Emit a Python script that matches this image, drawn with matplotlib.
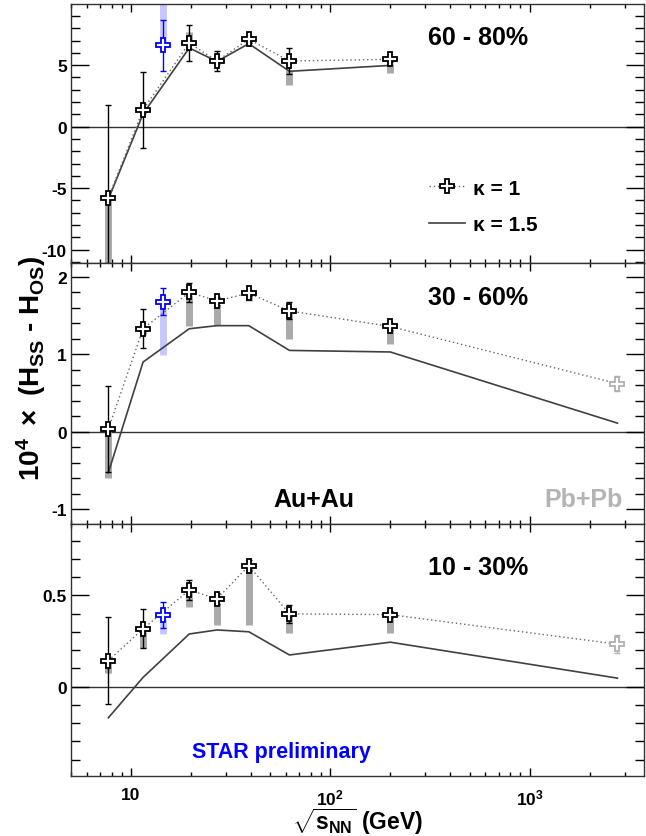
import numpy as np
import matplotlib
matplotlib.use("Agg")
import matplotlib.pyplot as plt
from matplotlib.ticker import MultipleLocator, FuncFormatter, LogLocator, NullFormatter

plt.rcParams['font.family'] = ['Liberation Sans', 'DejaVu Sans']
plt.rcParams['font.weight'] = 'bold'
plt.rcParams['mathtext.fontset'] = 'custom'
plt.rcParams['mathtext.rm'] = 'Liberation Sans:bold'
plt.rcParams['mathtext.it'] = 'Liberation Sans:bold'
plt.rcParams['mathtext.bf'] = 'Liberation Sans:bold'
plt.rcParams['axes.unicode_minus'] = False

# Au+Au beam energies (GeV), STAR point at 14.5 GeV kept apart, Pb+Pb at LHC
energies = [7.7, 11.5, 19.6, 27, 39, 62.4, 200]
star_energy = 14.5
lhc_energy = 2760

# 60 - 80%
k1_6080 = [-5.77, 1.38, 6.8, 5.34, 7.1, 5.34, 5.47]
k1_6080_err = [7.56, 3.1, 1.45, 0.78, 0.3, 1.05, 0.2]
k15_6080 = [-5.9, 1.05, 6.4, 5.3, 6.75, 4.5, 4.98]
sys_lo_6080 = [-11.5, 1.0, 6.6, 5.0, 6.8, 3.4, 4.4]
sys_hi_6080 = [-5.9, 1.4, 7.7, 5.4, 7.1, 4.6, 5.1]
star_6080 = [6.6, 2.1, 6.6, 11.0]      # value, error, sys low, sys high

# 30 - 60%
k1_3060 = [0.035, 1.33, 1.80, 1.69, 1.79, 1.56, 1.36]
k1_3060_err = [0.56, 0.25, 0.12, 0.05, 0.04, 0.11, 0.04]
k15_3060 = [-0.53, 0.9, 1.33, 1.37, 1.37, 1.05, 1.03]
sys_lo_3060 = [-0.6, 1.25, 1.36, 1.38, 1.69, 1.20, 1.13]
sys_hi_3060 = [0.0, 1.33, 1.77, 1.64, 1.77, 1.53, 1.31]
star_3060 = [1.68, 0.175, 0.99, 1.59]
lhc_3060 = [0.62, 0.1, 0.11]           # value, error, kappa = 1.5

# 10 - 30%
k1_1030 = [0.142, 0.316, 0.529, 0.48, 0.662, 0.398, 0.394]
k1_1030_err = [0.24, 0.107, 0.055, 0.03, 0.03, 0.05, 0.02]
k15_1030 = [-0.171, 0.05, 0.288, 0.31, 0.30, 0.173, 0.243]
sys_lo_1030 = [0.075, 0.21, 0.434, 0.337, 0.337, 0.294, 0.294]
sys_hi_1030 = [0.135, 0.30, 0.516, 0.46, 0.644, 0.385, 0.37]
star_1030 = [0.392, 0.073, 0.29, 0.37]
lhc_1030 = [0.232, 0.048, 0.046]

panels = [
    dict(label='60 - 80%', k1=k1_6080, err=k1_6080_err, k15=k15_6080,
         lo=sys_lo_6080, hi=sys_hi_6080, star=star_6080, lhc=None,
         ylim=(-11.08, 9.97), major=5, minor=1, ly=0.873),
    dict(label='30 - 60%', k1=k1_3060, err=k1_3060_err, k15=k15_3060,
         lo=sys_lo_3060, hi=sys_hi_3060, star=star_3060, lhc=lhc_3060,
         ylim=(-1.19, 2.18), major=1, minor=0.2, ly=0.87),
    dict(label='10 - 30%', k1=k1_1030, err=k1_1030_err, k15=k15_1030,
         lo=sys_lo_1030, hi=sys_hi_1030, star=star_1030, lhc=lhc_1030,
         ylim=(-0.49, 0.892), major=0.5, minor=0.1, ly=0.828),
]

fig = plt.figure(figsize=(6.46, 8.37), dpi=100)
rects = [(0.1099, 0.6846, 0.887, 0.3094),
         (0.1099, 0.3731, 0.887, 0.3115),
         (0.1099, 0.0717, 0.887, 0.3014)]

gray_sys = '#aaaaaa'
for i, (p, r) in enumerate(zip(panels, rects)):
    ax = fig.add_axes(r)
    ax.set_xscale('log')
    ax.set_xlim(5.0, 3750)
    ax.set_ylim(*p['ylim'])

    ax.axhline(0, color='#333333', lw=1, zorder=1)

    x = list(energies)
    y1 = list(p['k1'])
    y15 = list(p['k15'])
    if p['lhc'] is not None:
        x.append(lhc_energy)
        y1.append(p['lhc'][0])
        y15.append(p['lhc'][2])

    # systematic bands
    ax.vlines(energies, p['lo'], p['hi'], colors=gray_sys, lw=5, zorder=2)
    s = p['star']
    ax.vlines([star_energy], [s[2]], [s[3]], colors='#c8c8ff', lw=5, zorder=2)

    line15, = ax.plot(x, y15, color='#404040', lw=1.2, zorder=3)
    line1, = ax.plot(x, y1, color='#666666', lw=1, ls=(0, (1, 2)), zorder=3)

    ax.errorbar(energies, p['k1'], yerr=p['err'], fmt='none', ecolor='k',
                elinewidth=1, capsize=2, capthick=1, zorder=4)
    marks, = ax.plot(energies, p['k1'], ls='none', marker='P', ms=10.5,
                     mfc='white', mec='k', mew=1.3, zorder=5)

    ax.errorbar([star_energy], [s[0]], yerr=[s[1]], fmt='none', ecolor='#0000ff',
                elinewidth=1, capsize=2, capthick=1, zorder=4)
    ax.plot([star_energy], [s[0]], ls='none', marker='P', ms=10.5,
            mfc='white', mec='#0000ff', mew=1.3, zorder=5)

    if p['lhc'] is not None:
        ax.errorbar([lhc_energy], [p['lhc'][0]], yerr=[p['lhc'][1]], fmt='none',
                    ecolor='#b0b0b0', elinewidth=1, capsize=2, capthick=1, zorder=4)
        ax.plot([lhc_energy], [p['lhc'][0]], ls='none', marker='P', ms=10.5,
                mfc='white', mec='#b0b0b0', mew=1.3, zorder=5)

    ax.text(0.711, p['ly'], p['label'], transform=ax.transAxes, fontsize=18,
            fontweight='bold', ha='center', va='center')

    # axis cosmetics
    ax.yaxis.set_major_locator(MultipleLocator(p['major']))
    ax.yaxis.set_minor_locator(MultipleLocator(p['minor']))
    ax.yaxis.set_major_formatter(FuncFormatter(lambda v, pos: '%g' % v))
    ax.xaxis.set_major_locator(LogLocator(base=10, numticks=10))
    ax.xaxis.set_minor_locator(LogLocator(base=10, subs=np.arange(2, 10), numticks=20))
    ax.xaxis.set_minor_formatter(NullFormatter())
    ax.tick_params(axis='both', which='both', direction='in', top=True, right=True)
    ax.tick_params(axis='y', which='major', length=13, width=1, labelsize=12.5, pad=3)
    ax.tick_params(axis='y', which='minor', length=6.5, width=1)
    ax.tick_params(axis='x', which='major', length=6, width=1, labelsize=12.5, pad=8)
    ax.tick_params(axis='x', which='minor', length=3, width=1)
    for sp in ax.spines.values():
        sp.set_linewidth(1)
        sp.set_color('#333333')

    if i < 2:
        ax.set_xticklabels([])
    else:
        ax.set_xticks([10, 100, 1000])
        ax.set_xticklabels(['10', '$10^{2}$', '$10^{3}$'])

    if i == 0:
        ax.legend([(line1, marks), line15], ['κ = 1', 'κ = 1.5'],
                  loc='center left', bbox_to_anchor=(0.607, 0.218),
                  frameon=False, handlelength=1.7,
                  handletextpad=0.4, labelspacing=0.85, borderpad=0,
                  prop={'weight': 'bold', 'size': 15})
    if i == 1:
        ax.text(0.424, 0.095, 'Au+Au', transform=ax.transAxes, fontsize=18,
                fontweight='bold', ha='center', va='center')
        ax.text(0.895, 0.095, 'Pb+Pb', transform=ax.transAxes, fontsize=18,
                fontweight='bold', ha='center', va='center', color='#b4b4b4')
    if i == 2:
        ax.text(0.367, 0.096, 'STAR preliminary', transform=ax.transAxes,
                fontsize=15.5, fontweight='bold', ha='center', va='center',
                color='#0000ff')

fig.text(0.048, 0.560, r'$10^{4}\ \times\ $(H$_{SS}$ - H$_{OS}$)', rotation=90,
         ha='center', va='center', fontsize=20, fontweight='bold')
fig.text(0.553, 0.018, r'$\sqrt{s_{NN}}$ (GeV)', ha='center', va='center',
         fontsize=16.5, fontweight='bold')

fig.savefig('out.png', dpi=100)
